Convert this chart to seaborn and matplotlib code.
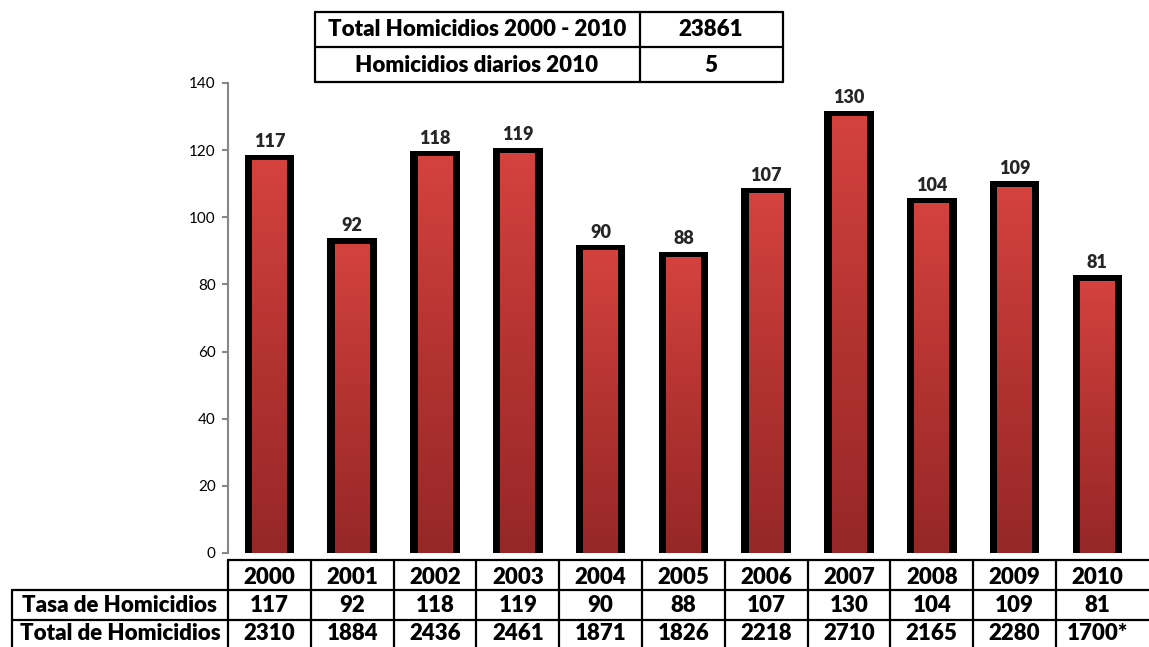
import numpy as np
import matplotlib
matplotlib.use('Agg')
import matplotlib.pyplot as plt
from matplotlib.colors import LinearSegmentedColormap
from matplotlib.lines import Line2D
from matplotlib.transforms import blended_transform_factory
import seaborn as sns
import pandas as pd

# Data
years = ['2000', '2001', '2002', '2003', '2004', '2005', '2006', '2007', '2008', '2009', '2010']
tasa = [117, 92, 118, 119, 90, 88, 107, 130, 104, 109, 81]
total = ['2310', '1884', '2436', '2461', '1871', '1826', '2218', '2710', '2165', '2280', '1700*']
row_labels = ['Tasa de Homicidios', 'Total de Homicidios']
summary_labels = ['Total Homicidios 2000 - 2010', 'Homicidios diarios 2010']
summary_values = ['23861', '5']

sns.set_theme(style='white')
plt.rcParams['font.family'] = ['Lato', 'DejaVu Sans']

W, H = 1149, 647
fig = plt.figure(figsize=(W / 100, H / 100), dpi=100)
ax = fig.add_axes([228 / W, 1 - 553 / H, 910.8 / W, 470 / H])

df = pd.DataFrame({'year': years, 'tasa': tasa})
df['frame'] = df['tasa'] + 1.7  # black frame sticks out a bit above the red bar

# black frame bars, then the red ones on top
sns.barplot(data=df, x='year', y='frame', color='black', width=0.6, saturation=1,
            edgecolor='black', linewidth=0, ax=ax)
sns.barplot(data=df, x='year', y='tasa', color='#b83431', width=0.42, saturation=1,
            linewidth=0, ax=ax)

# vertical gradient on the red bars
cmap = LinearSegmentedColormap.from_list('redgrad', ['#962727', '#b33331', '#d4423e'])
grad = np.linspace(0, 1, 256).reshape(-1, 1)
for p in ax.patches[len(years):]:
    x0, w, h = p.get_x(), p.get_width(), p.get_height()
    ax.imshow(grad, cmap=cmap, origin='lower', aspect='auto',
              extent=[x0, x0 + w, 0, h], zorder=p.get_zorder() + 0.1)

ax.set_xlim(-0.5, len(years) - 0.5)
ax.set_ylim(0, 140)
ax.set_yticks(range(0, 141, 20))
ax.set_xticks([])
ax.set_xlabel('')
ax.set_ylabel('')
ax.tick_params(axis='y', left=True, length=4.3, width=1.5, color='#878787',
               labelsize=11, pad=4.5, labelcolor='black')
for s in ['top', 'right', 'bottom']:
    ax.spines[s].set_visible(False)
ax.spines['left'].set_color('#878787')
ax.spines['left'].set_linewidth(1.5)

WEIGHT = 'heavy'

# value labels
for i, v in enumerate(tasa):
    ax.annotate(str(v), (i, v), xytext=(0, 9.5), textcoords='offset points',
                ha='center', va='baseline', fontsize=13, fontweight=WEIGHT,
                annotation_clip=False)

# bottom data table
tr = blended_transform_factory(ax.transData, fig.transFigure)
lw = 1.6
n = len(years)


def fy(py):
    return 1 - py / H


def hline(x0, x1, py, trans):
    fig.add_artist(Line2D([x0, x1], [fy(py), fy(py)], transform=trans, color='black', lw=lw))


def vline(x, py0, py1, trans):
    fig.add_artist(Line2D([x, x], [fy(py0), fy(py1)], transform=trans, color='black', lw=lw))


hline(-0.5, n + 0.5, 560, tr)
for py in [590, 620]:
    hline(12 / W, 1, py, fig.transFigure)
for k in range(n):
    vline(k - 0.5, 560, 647, tr)
vline(12 / W, 590, 647, fig.transFigure)

tkw = dict(ha='center', va='center', fontsize=16, fontweight=WEIGHT, color='black')
for i in range(n):
    fig.text(i, fy(577), years[i], transform=tr, **tkw)
    fig.text(i, fy(605), str(tasa[i]), transform=tr, **tkw)
    fig.text(i, fy(633), total[i], transform=tr, **tkw)
fig.text(120 / W, fy(605), row_labels[0], **tkw)
fig.text(120 / W, fy(633), row_labels[1], **tkw)

# summary table at the top
for py in [12, 47, 82]:
    hline(315 / W, 783 / W, py, fig.transFigure)
for px in [315, 640, 783]:
    vline(px / W, 12, 82, fig.transFigure)
for r, py in enumerate([30, 65]):
    fig.text(477 / W, fy(py), summary_labels[r], **tkw)
    fig.text(711 / W, fy(py), summary_values[r], **tkw)

fig.savefig('out.png', dpi=100)
